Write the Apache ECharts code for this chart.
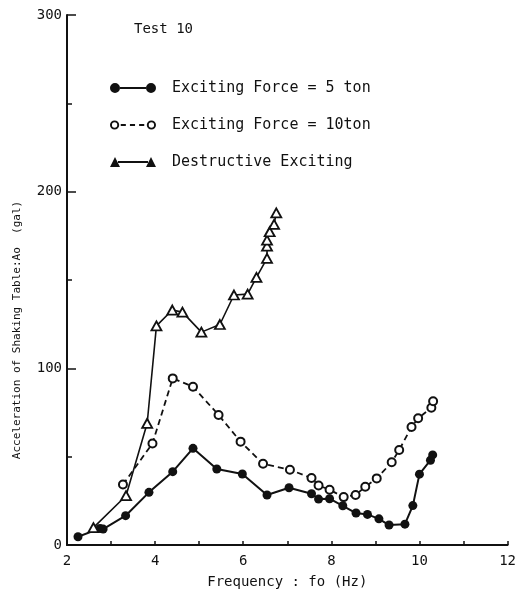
<!DOCTYPE html>
<html>
<head>
<meta charset="utf-8">
<script src="https://cdn.jsdelivr.net/npm/echarts@6/dist/echarts.min.js"></script>
<style>html,body{margin:0;padding:0;background:#fff;}#c{width:519px;height:609px;}</style>
</head>
<body>
<div id="c"></div>
<script>
// ---- data ----
const xTicks = [2, 4, 6, 8, 10, 12];
const yTicks = [0, 100, 200, 300];

const name1 = 'Exciting Force = 5 ton';
const s1x = [2.25, 2.75, 2.82, 3.33, 3.86, 4.40, 4.86, 5.40, 5.98, 6.54, 7.04, 7.55, 7.71, 7.96, 8.26, 8.56, 8.82, 9.08, 9.31, 9.67, 9.85, 10.00, 10.25, 10.30];
const s1y = [4.7, 9.4, 9.0, 16.6, 29.8, 41.5, 54.7, 43.0, 40.2, 28.3, 32.4, 29.0, 26.0, 26.2, 22.2, 18.1, 17.3, 14.8, 11.3, 11.8, 22.3, 40.1, 48.0, 51.0];

const name2 = 'Exciting Force = 10ton';
const s2x = [3.27, 3.94, 4.40, 4.86, 5.44, 5.94, 6.45, 7.06, 7.55, 7.71, 7.96, 8.28, 8.55, 8.77, 9.03, 9.37, 9.54, 9.82, 9.97, 10.27, 10.31];
const s2y = [34.2, 57.5, 94.3, 89.6, 73.6, 58.5, 46.0, 42.6, 37.9, 33.7, 31.3, 27.1, 28.3, 33.0, 37.7, 46.8, 53.8, 66.8, 71.7, 77.7, 81.4];

const name3 = 'Destructive Exciting';
const s3x = [2.60, 3.34, 3.82, 4.03, 4.39, 4.62, 5.05, 5.47, 5.79, 6.10, 6.30, 6.54, 6.54, 6.54, 6.60, 6.70, 6.75];
const s3y = [9.8, 27.9, 68.9, 124.0, 133.0, 131.8, 120.5, 124.8, 141.5, 142.0, 151.5, 162.2, 169.2, 172.6, 177.3, 181.5, 188.0];

const pairs = (xs, ys) => xs.map((x, i) => [x, ys[i]]);
const INK = '#111';
const MONO = '"DejaVu Sans Mono", "Liberation Mono", monospace';

// legend icons (46 x 10 box)
function circ(cx, cy, r, rev) {
  const s = rev ? 1 : 0;
  return `M${cx - r} ${cy}A${r} ${r} 0 1 ${s} ${cx + r} ${cy}A${r} ${r} 0 1 ${s} ${cx - r} ${cy}Z`;
}
const icon1 = 'path://' + circ(5, 5, 5, false) + circ(41, 5, 5, false) + 'M10 4.1L36 4.1L36 5.9L10 5.9Z';
const icon2 = 'path://' + circ(5, 5, 4.5, false) + circ(5, 5, 2.6, true) + circ(41, 5, 4.5, false) + circ(41, 5, 2.6, true) +
  'M11 4L16 4L16 6L11 6Z M20 4L25 4L25 6L20 6Z M29 4L34 4L34 6L29 6Z';
const icon3 = 'path://M0 10L5 0L10 10Z M36 10L41 0L46 10Z M8 4.1L38 4.1L38 5.9L8 5.9Z';

const chart = echarts.init(document.getElementById('c'), null, {renderer: 'canvas'});
chart.setOption({
  animation: false,
  backgroundColor: '#fff',
  title: {
    text: 'Test 10', left: 129, top: 17,
    textStyle: {fontFamily: MONO, fontSize: 14, fontWeight: 'normal', color: INK}
  },
  legend: {
    orient: 'vertical', left: 105, top: 75,
    itemWidth: 46, itemHeight: 10, itemGap: 21,
    textStyle: {fontFamily: MONO, fontSize: 15, color: INK, lineHeight: 16, padding: [0, 0, 0, 11]},
    data: [
      {name: name1, icon: icon1, itemStyle: {color: INK, borderWidth: 0}},
      {name: name2, icon: icon2, itemStyle: {color: INK, borderWidth: 0}},
      {name: name3, icon: icon3, itemStyle: {color: INK, borderWidth: 0}}
    ]
  },
  grid: {left: 67, right: 11, top: 15, bottom: 64, containLabel: false},
  xAxis: {
    type: 'value', min: 2, max: 12, interval: 1,
    name: 'Frequency : fo (Hz)', nameLocation: 'middle', nameGap: 30,
    nameTextStyle: {fontFamily: MONO, fontSize: 14, color: INK},
    axisLine: {lineStyle: {color: INK, width: 2}},
    axisTick: {inside: true, length: 4, lineStyle: {color: INK, width: 1.5}},
    axisLabel: {
      margin: 9, fontFamily: MONO, fontSize: 14, color: INK,
      formatter: v => (xTicks.indexOf(v) >= 0 ? String(v) : '')
    },
    splitLine: {show: false}
  },
  yAxis: {
    type: 'value', min: 0, max: 300, interval: 100,
    axisLine: {show: true, lineStyle: {color: INK, width: 2}},
    axisTick: {inside: true, length: 9, lineStyle: {color: INK, width: 1.5}},
    minorTick: {show: true, splitNumber: 2, length: 5, lineStyle: {color: INK, width: 1.5}},
    axisLabel: {
      margin: 5, fontFamily: MONO, fontSize: 14, color: INK,
      formatter: v => (yTicks.indexOf(v) >= 0 ? String(v) : '')
    },
    splitLine: {show: false}
  },
  graphic: [{
    type: 'text', x: 17, y: 330, rotation: Math.PI / 2,
    style: {
      text: 'Acceleration of Shaking Table:Ao  (gal)',
      fontFamily: MONO, fontSize: 11, fill: INK,
      align: 'center', verticalAlign: 'middle'
    }
  }],
  series: [
    {
      name: name1, type: 'line', data: pairs(s1x, s1y),
      symbol: 'circle', symbolSize: 9,
      itemStyle: {color: INK},
      lineStyle: {color: INK, width: 2}
    },
    {
      name: name2, type: 'line', data: pairs(s2x, s2y),
      symbol: 'circle', symbolSize: 8,
      itemStyle: {color: '#fff', borderColor: INK, borderWidth: 2},
      lineStyle: {color: INK, width: 1.8, type: [6, 4]}
    },
    {
      name: name3, type: 'line', data: pairs(s3x, s3y),
      symbol: 'triangle', symbolSize: [10, 9],
      itemStyle: {color: '#fff', borderColor: INK, borderWidth: 1.8},
      lineStyle: {color: INK, width: 1.6}
    }
  ]
});
</script>
</body>
</html>
